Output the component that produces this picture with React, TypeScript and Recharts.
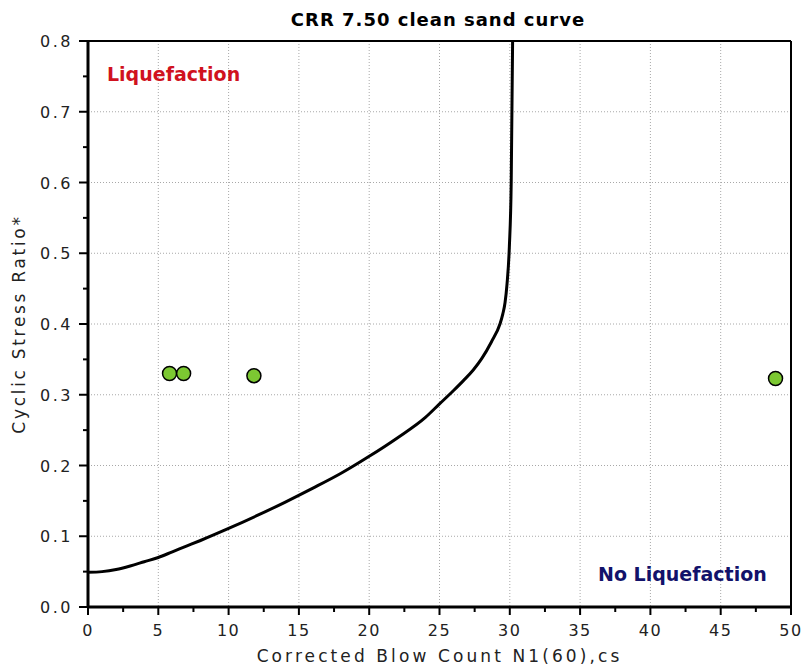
import React from 'react'
import {
  ComposedChart, Line, Scatter, XAxis, YAxis, CartesianGrid, ReferenceLine,
} from 'recharts'

// CRR curve (N1(60)cs vs cyclic resistance ratio)
const CURVE_N = [0, 1, 2, 3, 4, 5, 6, 7, 8, 10, 12, 14, 16, 18, 20, 22, 24, 25, 26, 26.7, 27.4, 28, 28.7, 29.3, 29.5, 29.66, 29.8, 29.97, 30.1, 30.2]
const CURVE_CRR = [0.049, 0.05, 0.053, 0.058, 0.064, 0.07, 0.078, 0.086, 0.094, 0.111, 0.129, 0.148, 0.168, 0.189, 0.213, 0.239, 0.268, 0.287, 0.306, 0.32, 0.335, 0.351, 0.375, 0.4, 0.414, 0.43, 0.456, 0.51, 0.6, 0.8]

// measured soil layers
const SITE_N = [5.8, 6.8, 11.8, 48.9]
const SITE_CSR = [0.33, 0.33, 0.327, 0.323]

const X_TICKS = [0, 2.5, 5, 7.5, 10, 12.5, 15, 17.5, 20, 22.5, 25, 27.5, 30, 32.5, 35, 37.5, 40, 42.5, 45, 47.5, 50]
const Y_TICKS = [0, 0.05, 0.1, 0.15, 0.2, 0.25, 0.3, 0.35, 0.4, 0.45, 0.5, 0.55, 0.6, 0.65, 0.7, 0.75, 0.8]
const X_GRID = [5, 10, 15, 20, 25, 30, 35, 40, 45]
const Y_GRID = [0.1, 0.2, 0.3, 0.4, 0.5, 0.6, 0.7]

const curve = CURVE_N.map((n, i) => ({ n, crr: CURVE_CRR[i] }))
const sites = SITE_N.map((n, i) => ({ n, csr: SITE_CSR[i] }))

const FONT = '"DejaVu Sans", Verdana, sans-serif'

const isMajor = (v: number, step: number) => Math.abs(v / step - Math.round(v / step)) < 1e-6

function XTick(props: any) {
  const { x, y, payload } = props
  const major = isMajor(payload.value, 5)
  return (
    <g>
      <line x1={x} x2={x} y1={y} y2={y + (major ? 8 : 5)} stroke="#000" strokeWidth={2} />
      {major && (
        <text x={x} y={y + 29} textAnchor="middle" fontSize={16} fontFamily={FONT}
          letterSpacing={1.5} fill="#222">
          {payload.value}
        </text>
      )}
    </g>
  )
}

function YTick(props: any) {
  const { x, y, payload } = props
  const major = isMajor(payload.value, 0.1)
  return (
    <g>
      <line x1={x} x2={x - (major ? 9 : 5)} y1={y} y2={y} stroke="#000" strokeWidth={2} />
      {major && (
        <text x={x - 15} y={y + 6} textAnchor="end" fontSize={16} fontFamily={FONT}
          letterSpacing={2.5} fill="#222">
          {payload.value.toFixed(1)}
        </text>
      )}
    </g>
  )
}

function Dot(props: any) {
  const { cx, cy } = props
  return <circle cx={cx} cy={cy} r={7} fill="#7cc832" stroke="#000" strokeWidth={1.5} />
}

export default function App() {
  return (
    <div style={{ position: 'absolute', left: 0, top: 0, width: 803, height: 666, background: '#fff' }}>
      <ComposedChart width={803} height={666} margin={{ top: 41, right: 12, bottom: 0, left: 0 }}>
        <text x={438} y={26} textAnchor="middle" fontSize={18} fontWeight="bold"
          fontFamily={FONT} letterSpacing={1} fill="#000">
          CRR 7.50 clean sand curve
        </text>
        <CartesianGrid stroke="#a8a8a8" strokeDasharray="1 2"
          verticalValues={X_GRID} horizontalValues={Y_GRID} />
        <XAxis type="number" dataKey="n" domain={[0, 50]} ticks={X_TICKS} interval={0}
          height={59} tickSize={0} tickMargin={0} tick={<XTick />} tickLine={false}
          axisLine={{ stroke: '#000', strokeWidth: 3 }}
          label={{ value: 'Corrected Blow Count N1(60),cs', position: 'insideBottom', offset: 4,
            fontSize: 17, fontFamily: FONT, letterSpacing: 3.1, fill: '#222' }} />
        <YAxis type="number" domain={[0, 0.8]} ticks={Y_TICKS} interval={0}
          width={88} tickSize={0} tickMargin={0} tick={<YTick />} tickLine={false}
          axisLine={{ stroke: '#000', strokeWidth: 3 }}
          label={{ value: 'Cyclic Stress Ratio*', angle: -90, position: 'insideLeft', offset: 19,
            style: { textAnchor: 'middle' },
            fontSize: 17, fontFamily: FONT, letterSpacing: 2.7, fill: '#222' }} />
        <ReferenceLine y={0.8} stroke="#000" strokeWidth={2} />
        <ReferenceLine x={50} stroke="#000" strokeWidth={2} />
        <Line data={curve} dataKey="crr" type="monotone" stroke="#000" strokeWidth={3}
          dot={false} isAnimationActive={false} />
        <Scatter data={sites} dataKey="csr" shape={<Dot />} isAnimationActive={false} />
        <text x={107} y={81} fontSize={19} fontWeight="bold" fontFamily={FONT} fill="#d0121e">
          Liquefaction
        </text>
        <text x={598} y={581} fontSize={19} fontWeight="bold" fontFamily={FONT} fill="#12126a">
          No Liquefaction
        </text>
      </ComposedChart>
    </div>
  )
}
